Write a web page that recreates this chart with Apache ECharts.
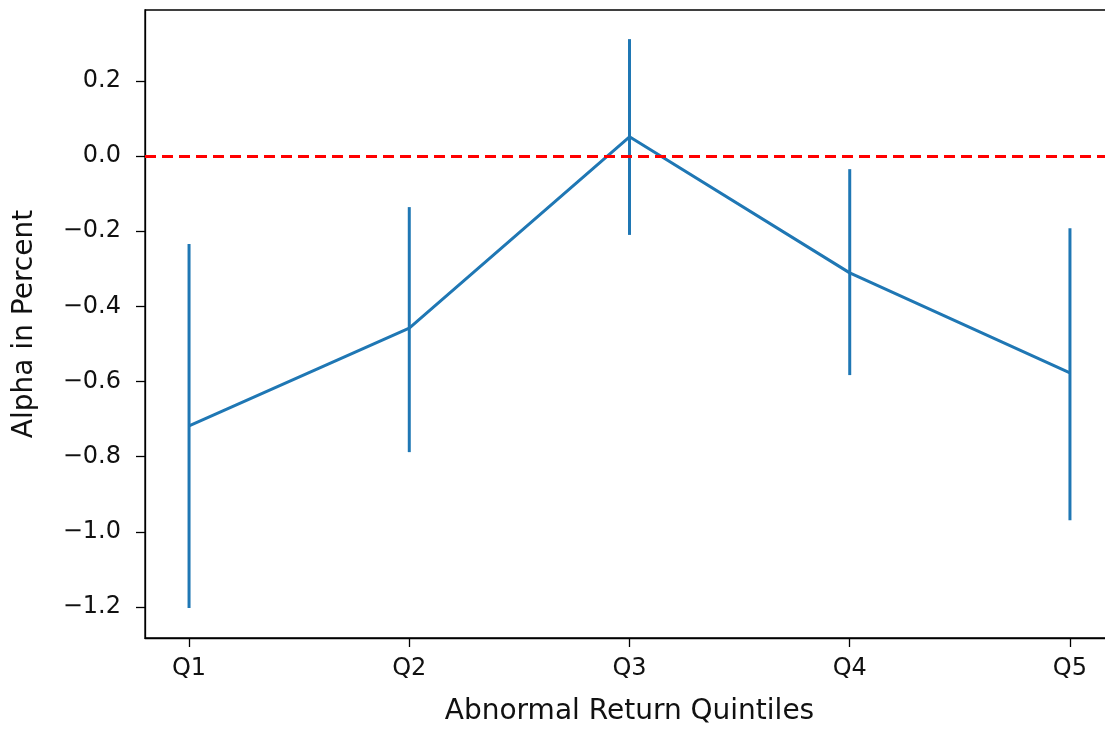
<!DOCTYPE html>
<html>
<head>
<meta charset="utf-8">
<script src="https://cdn.jsdelivr.net/npm/echarts@6/dist/echarts.min.js"></script>
<style>html,body{margin:0;padding:0;background:#fff;overflow:hidden;width:1105px;height:731px;}#c{width:1180px;height:731px;}</style>
</head>
<body>
<div id="c"></div>
<script>
const categories = ['Q1', 'Q2', 'Q3', 'Q4', 'Q5'];
const alphaMean = [-0.718, -0.458, 0.051, -0.311, -0.577];
const errLow = [-1.203, -0.788, -0.210, -0.583, -0.969];
const errHigh = [-0.234, -0.136, 0.311, -0.035, -0.192];
const yTicks = [-1.2, -1.0, -0.8, -0.6, -0.4, -0.2, 0.0, 0.2];

const chart = echarts.init(document.getElementById('c'), null, {renderer: 'canvas'});
const font = 'DejaVu Sans';
const blue = '#1f77b4';
const xIdx = categories.map((_, i) => i);

const option = {
  animation: false,
  backgroundColor: '#fff',
  grid: {left: 145, top: 10, width: 969, height: 628, show: true, borderColor: '#000', borderWidth: 1.3, backgroundColor: 'transparent'},
  xAxis: {
    type: 'value', min: -0.2, max: 4.2,
    splitLine: {show: false},
    axisLine: {show: true, onZero: false, lineStyle: {color: '#000', width: 1.3}},
    axisTick: {show: true, length: 9, lineStyle: {color: '#000', width: 1.3}, customValues: xIdx},
    axisLabel: {customValues: xIdx, formatter: v => categories[Math.round(v)] || '', color: '#111', fontFamily: font, fontSize: 24, margin: 19},
    name: 'Abnormal Return Quintiles', nameLocation: 'middle', nameGap: 60,
    nameTextStyle: {color: '#111', fontFamily: font, fontSize: 28}
  },
  yAxis: {
    type: 'value', min: -1.2826, max: 0.3885,
    splitLine: {show: false},
    axisLine: {show: true, onZero: false, lineStyle: {color: '#000', width: 1.3}},
    axisTick: {show: true, length: 9, lineStyle: {color: '#000', width: 1.3}, customValues: yTicks},
    axisLabel: {customValues: yTicks, formatter: v => (v < 0 ? '\u2212' : '') + Math.abs(v).toFixed(1), color: '#111', fontFamily: font, fontSize: 24, margin: 24},
    name: 'Alpha in Percent', nameLocation: 'middle', nameGap: 106,
    nameTextStyle: {color: '#111', fontFamily: font, fontSize: 28}
  },
  series: [
    {
      type: 'line',
      data: xIdx.map(i => [i, alphaMean[i]]),
      symbol: 'none',
      lineStyle: {color: blue, width: 3},
      z: 3,
      markLine: {
        silent: true, symbol: 'none', label: {show: false},
        lineStyle: {color: '#ff0000', width: 3, type: [11, 6]},
        data: [{yAxis: 0}]
      }
    },
    {
      type: 'custom',
      data: xIdx.map(i => [i, errLow[i], errHigh[i]]),
      renderItem: function (params, api) {
        const p1 = api.coord([api.value(0), api.value(1)]);
        const p2 = api.coord([api.value(0), api.value(2)]);
        return {type: 'line', shape: {x1: p1[0], y1: p1[1], x2: p2[0], y2: p2[1]}, style: {stroke: blue, lineWidth: 3}};
      },
      z: 4
    }
  ]
};
chart.setOption(option);
</script>
</body>
</html>
